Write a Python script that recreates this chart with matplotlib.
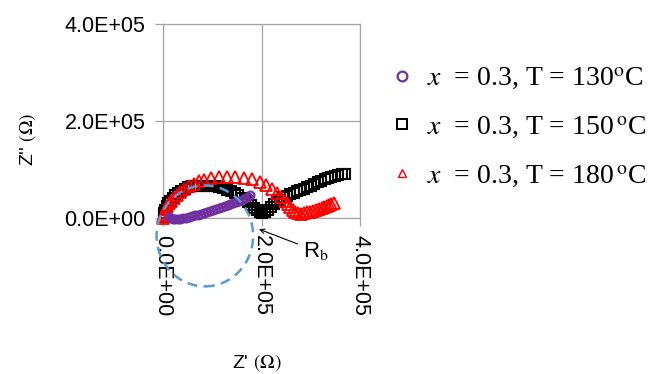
import matplotlib
matplotlib.use("Agg")
import matplotlib.pyplot as plt
from matplotlib.lines import Line2D
from matplotlib.patches import Ellipse
from matplotlib.ticker import FuncFormatter

plt.rcParams.update({
    "font.family": ["Liberation Sans", "DejaVu Sans"],
    "mathtext.fontset": "stix",
})

# ── data (Z', Z'' in kOhm) ───────────────────────────────────────────────
# x = 0.3, T = 130 C
z1_re = [12, 16, 20, 25, 30, 35, 41, 47, 53, 59, 65, 71, 77, 83, 89, 95,
         101, 107, 113, 119, 125, 131, 137, 143, 149, 155, 161, 167, 172, 177]
z1_im = [2, 0, -2, -3, -3, -2, -1, 1, 3, 4, 6, 7, 9, 11, 12, 14,
         16, 18, 20, 22, 24, 26, 28, 30, 32, 35, 38, 41, 44, 47]

# x = 0.3, T = 150 C
z2_re = [2, 3, 5, 8, 11, 15, 20, 25, 31, 37, 44, 51, 58, 66, 74, 82, 90, 98,
         106, 114, 122, 130, 138, 146, 153, 160, 167, 173, 179, 185, 190, 196,
         201, 207, 213, 219, 225, 231, 237, 244, 251, 258, 265, 272, 279, 286,
         293, 300, 307, 314, 321, 328, 335, 342, 349, 356, 363, 370]
z2_im = [3, 10, 17, 24, 30, 36, 42, 47, 52, 56, 60, 63, 65, 66, 67, 67, 67, 66,
         65, 63, 61, 58, 55, 51, 47, 42, 37, 32, 26, 21, 16, 13,
         11, 13, 17, 22, 28, 33, 38, 43, 46, 49, 52, 55, 57, 60,
         64, 67, 71, 74, 77, 80, 83, 85, 87, 89, 90, 91]

# x = 0.3, T = 180 C
z3_re = [0, 1, 2, 4, 6, 9, 13, 17, 22, 28, 35, 43, 52, 62, 73, 84,
         97, 113, 130, 147, 164, 180, 196,
         210, 222, 232, 240, 247, 253, 258, 263, 268, 274, 280,
         286, 292, 298, 304, 310, 316, 322, 327, 332, 337, 342, 347]
z3_im = [1, 4, 8, 13, 18, 24, 30, 36, 42, 48, 54, 60, 66, 71, 76, 79,
         82, 84, 85, 85, 83, 80, 75,
         68, 60, 51, 43, 35, 28, 22, 17, 13, 10, 9,
         10, 12, 13, 15, 17, 19, 21, 23, 25, 27, 29, 31]

labels = [r"$x$  = 0.3, T = 130$^{\rm o}$C",
          r"$x$  = 0.3, T = 150$\,^{\rm o}$C",
          r"$x$  = 0.3, T = 180$\,^{\rm o}$C"]

# fitted semicircle (kOhm) and R_b mark
circ_center = (85, -37)
circ_w, circ_h = 196, 208
rb_point = (195, -23)
rb_text = (284, -68)

k = 1e3
GRID = "#A6A6A6"
PURPLE = "#7030A0"

fig = plt.figure(figsize=(6.62, 3.74), dpi=100)
ax = fig.add_axes([163/662, 1-218/374, 197/662, 194/374])

ax.plot([v*k for v in z2_re], [v*k for v in z2_im], ls="none", marker="s",
        ms=7, mfc="none", mec="black", mew=1.5, clip_on=False, zorder=3)
ax.plot([v*k for v in z3_re], [v*k for v in z3_im], ls="none", marker="^",
        ms=8.2, mfc="none", mec="#FF0000", mew=1.3, clip_on=False, zorder=4)
ax.plot([v*k for v in z1_re], [v*k for v in z1_im], ls="none", marker="o",
        ms=5.6, mfc="none", mec=PURPLE, mew=1.6, clip_on=False, zorder=5)

ax.add_patch(Ellipse((circ_center[0]*k, circ_center[1]*k), circ_w*k, circ_h*k,
                     fill=False, ec="#5B9BD5", lw=1.8, ls=(0, (4, 2.5)),
                     clip_on=False, zorder=6))

ax.annotate(r"R$_{\rm b}$", xy=(rb_point[0]*k, rb_point[1]*k),
            xytext=(rb_text[0]*k, rb_text[1]*k), ha="left", va="center",
            fontsize=16, annotation_clip=False,
            arrowprops=dict(arrowstyle="->", color="black", lw=0.8,
                            shrinkA=2, shrinkB=0, mutation_scale=8))

ax.set_xlim(0, 4e5)
ax.set_ylim(0, 4e5)
ax.set_xticks([0, 2e5, 4e5])
ax.set_yticks([0, 2e5, 4e5])
fmt = FuncFormatter(lambda v, p: f"{v:.1E}")
ax.xaxis.set_major_formatter(fmt)
ax.yaxis.set_major_formatter(fmt)
ax.tick_params(direction="out", length=5.5, width=0.9, color=GRID,
               labelsize=15.5, pad=7)
plt.setp(ax.get_xticklabels(), rotation=-90, va="top", ha="center")
ax.grid(True, color=GRID, lw=0.9)
for s in ax.spines.values():
    s.set_color(GRID)
    s.set_linewidth(0.9)

ax.set_ylabel(r"Z'' $(\Omega)$", fontsize=14)
ax.yaxis.set_label_coords(-0.635, 0.407)
ax.set_xlabel(r"Z' $(\Omega)$", fontsize=14)
ax.xaxis.set_label_coords(0.477, -0.69)

handles = [
    Line2D([], [], ls="none", marker="o", ms=7, mfc="none", mec=PURPLE, mew=1.6),
    Line2D([], [], ls="none", marker="s", ms=7.5, mfc="none", mec="black", mew=1.4),
    Line2D([], [], ls="none", marker="^", ms=6, mfc="none", mec="#FF0000", mew=1.0),
]
fig.legend(handles, labels, loc="upper left", bbox_to_anchor=(388/662, 0.825),
           frameon=False, handlelength=1.0, handletextpad=0.4,
           labelspacing=0.82, borderpad=0, borderaxespad=0,
           prop={"family": ["Liberation Serif"], "size": 20})

fig.savefig("out.png", dpi=100, facecolor="white")
